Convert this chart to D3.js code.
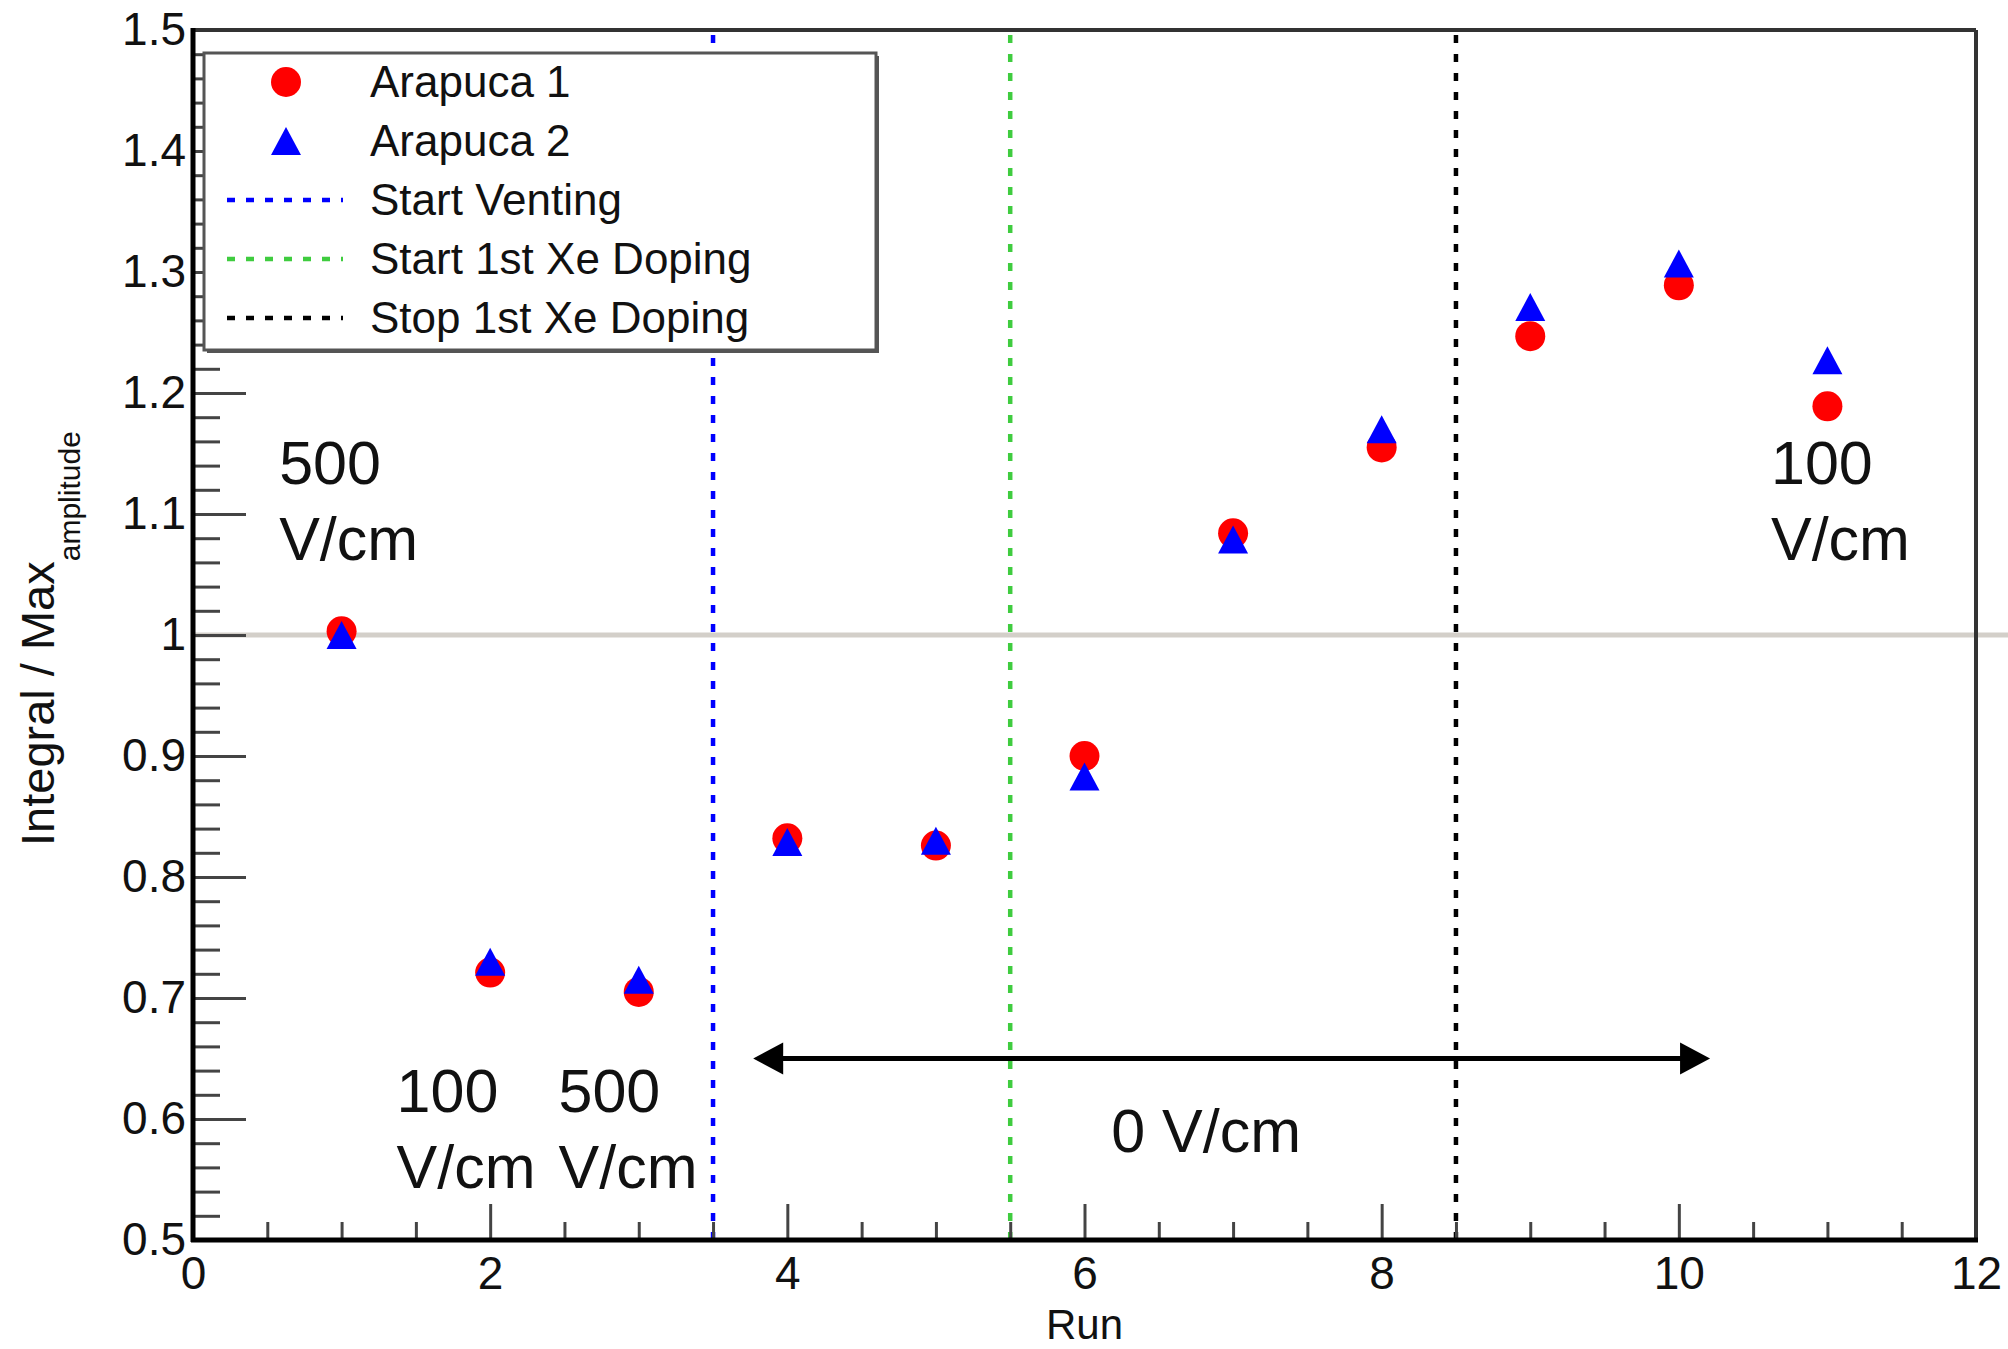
<!DOCTYPE html>
<html>
<head>
<meta charset="utf-8">
<script src="https://cdn.jsdelivr.net/npm/d3@7"></script>
<style>
  body { margin: 0; background: #fff; }
  svg { display: block; font-family: "Liberation Sans", Arial, Helvetica, sans-serif; }
  .tick text { fill: #111; }
</style>
</head>
<body>
<div class="chart"></div>
<script>
// run numbers and the two series
const runs = [1, 2, 3, 4, 5, 6, 7, 8, 9, 10, 11];
const arapuca1 = [1.003, 0.721, 0.705, 0.832, 0.826, 0.900, 1.084, 1.155, 1.247, 1.289, 1.189];
const arapuca2 = [1.000, 0.730, 0.715, 0.829, 0.830, 0.883, 1.079, 1.170, 1.271, 1.307, 1.227];

// axis ticks
const xTicks = [0, 2, 4, 6, 8, 10, 12];
const yTicks = [0.5, 0.6, 0.7, 0.8, 0.9, 1.0, 1.1, 1.2, 1.3, 1.4, 1.5];
const yTickLabels = ['0.5', '0.6', '0.7', '0.8', '0.9', '1', '1.1', '1.2', '1.3', '1.4', '1.5'];

// vertical markers (run where something happened)
const eventNames = ['Start Venting', 'Start 1st Xe Doping', 'Stop 1st Xe Doping'];
const eventRuns = [3.5, 5.5, 8.5];
const eventColors = ['#0000ff', '#3fcc3f', '#000000'];

const seriesNames = ['Arapuca 1', 'Arapuca 2'];
const seriesColors = ['#ff0000', '#0000ff'];

// field labels written on the plot (data units)
const fieldLabels = [
    {lines: ['500', 'V/cm'], x: 0.58, y: 1.125},
    {lines: ['100', 'V/cm'], x: 1.37, y: 0.606},
    {lines: ['500', 'V/cm'], x: 2.46, y: 0.606},
    {lines: ['0 V/cm'], x: 6.18, y: 0.573},
    {lines: ['100', 'V/cm'], x: 10.62, y: 1.125}
];
const zeroFieldRange = [3.77, 10.21];
const zeroFieldY = 0.65;

const W = 2008, H = 1349;
const margin = {top: 30, right: 32, bottom: 109, left: 193};
const width = W - margin.left - margin.right;
const height = H - margin.top - margin.bottom;

const xScale = d3.scaleLinear().domain([0, 12]).range([0, width]);
const yScale = d3.scaleLinear().domain([0.5, 1.5]).range([height, 0]);

const root = d3.select('.chart').append('svg')
    .attr('width', W)
    .attr('height', H);
root.append('rect').attr('width', W).attr('height', H).attr('fill', '#fff');

const svg = root.append('g')
    .attr('transform', 'translate(' + margin.left + ',' + margin.top + ')');

// reference line at 1 (runs past the frame to the page edge)
svg.append('line')
    .attr('x1', 0).attr('x2', W - margin.left)
    .attr('y1', yScale(1)).attr('y2', yScale(1))
    .attr('stroke', '#d3cfc9')
    .attr('stroke-width', 5);

// event lines
svg.selectAll('.event')
    .data(eventRuns).enter()
    .append('line')
    .attr('class', 'event')
    .attr('x1', d => xScale(d)).attr('x2', d => xScale(d))
    .attr('y1', height).attr('y2', 0)
    .attr('stroke', (d, i) => eventColors[i])
    .attr('stroke-width', 4.5)
    .attr('stroke-dasharray', '8 11');

// axes: minor and major ticks pointing inward
const xMinor = d3.range(0, 12.01, 0.5).filter(v => v % 2 !== 0);
const yMinor = d3.range(0, 51).map(i => 0.5 + i * 0.02).filter((v, i) => i % 5 !== 0);

const xAxisMinor = d3.axisBottom(xScale).tickValues(xMinor).tickSize(-18).tickFormat('');
const xAxis = d3.axisBottom(xScale).tickValues(xTicks).tickSize(-36).tickPadding(16)
    .tickFormat(d => String(d));
const yAxisMinor = d3.axisLeft(yScale).tickValues(yMinor).tickSize(-27).tickFormat('');
const yAxis = d3.axisLeft(yScale).tickValues(yTicks).tickSize(-53).tickPadding(7)
    .tickFormat((d, i) => yTickLabels[i]);

function styleAxis(g) {
    g.select('.domain').remove();
    g.selectAll('line').attr('stroke', '#444').attr('stroke-width', 3);
    g.selectAll('text').attr('font-size', 46).attr('font-family', null);
}

svg.append('g').attr('class', 'x axis minor')
    .attr('transform', 'translate(0,' + height + ')')
    .call(xAxisMinor).call(styleAxis);
svg.append('g').attr('class', 'x axis')
    .attr('transform', 'translate(0,' + height + ')')
    .call(xAxis).call(styleAxis);
svg.append('g').attr('class', 'y axis minor')
    .call(yAxisMinor).call(styleAxis);
svg.append('g').attr('class', 'y axis')
    .call(yAxis).call(styleAxis);

// frame
svg.append('line').attr('x1', 0).attr('x2', width).attr('y1', 0).attr('y2', 0)
    .attr('stroke', '#333').attr('stroke-width', 4);
svg.append('line').attr('x1', width).attr('x2', width).attr('y1', 0).attr('y2', height)
    .attr('stroke', '#333').attr('stroke-width', 4);
svg.append('line').attr('x1', -2).attr('x2', width + 2).attr('y1', height).attr('y2', height)
    .attr('stroke', '#000').attr('stroke-width', 5);
svg.append('line').attr('x1', 0).attr('x2', 0).attr('y1', -2).attr('y2', height + 2)
    .attr('stroke', '#000').attr('stroke-width', 5);

// axis titles
root.append('text')
    .attr('x', margin.left + width / 2)
    .attr('y', 1339)
    .attr('text-anchor', 'middle')
    .attr('font-size', 42)
    .attr('fill', '#111')
    .text('Run');

const yTitle = root.append('text')
    .attr('transform', 'translate(54,' + 846 + ')rotate(-90)')
    .attr('font-size', 47)
    .attr('fill', '#111');
yTitle.append('tspan').text('Integral / Max');
yTitle.append('tspan').attr('dy', 26).attr('font-size', 30).text('amplitude');

// markers
const triangle = 'M0,-14L15,14L-15,14Z';

svg.selectAll('.a1')
    .data(runs).enter()
    .append('circle')
    .attr('class', 'a1')
    .attr('cx', d => xScale(d))
    .attr('cy', (d, i) => yScale(arapuca1[i]))
    .attr('r', 15)
    .attr('fill', seriesColors[0]);

svg.selectAll('.a2')
    .data(runs).enter()
    .append('path')
    .attr('class', 'a2')
    .attr('d', triangle)
    .attr('transform', (d, i) => 'translate(' + xScale(d) + ',' + yScale(arapuca2[i]) + ')')
    .attr('fill', seriesColors[1]);

// 0 V/cm arrow
const ay = yScale(zeroFieldY);
const ax0 = xScale(zeroFieldRange[0]);
const ax1 = xScale(zeroFieldRange[1]);
svg.append('line')
    .attr('x1', ax0 + 20).attr('x2', ax1 - 20)
    .attr('y1', ay).attr('y2', ay)
    .attr('stroke', '#000').attr('stroke-width', 5);
svg.append('path')
    .attr('d', 'M' + ax0 + ',' + ay + 'L' + (ax0 + 30) + ',' + (ay - 16) + 'L' + (ax0 + 30) + ',' + (ay + 16) + 'Z')
    .attr('fill', '#000');
svg.append('path')
    .attr('d', 'M' + ax1 + ',' + ay + 'L' + (ax1 - 30) + ',' + (ay - 16) + 'L' + (ax1 - 30) + ',' + (ay + 16) + 'Z')
    .attr('fill', '#000');

// field labels
const fl = svg.selectAll('.field')
    .data(fieldLabels).enter()
    .append('text')
    .attr('class', 'field')
    .attr('font-size', 61)
    .attr('fill', '#111')
    .attr('transform', d => 'translate(' + xScale(d.x) + ',' + yScale(d.y) + ')');
fl.selectAll('tspan')
    .data(d => d.lines).enter()
    .append('tspan')
    .attr('x', 0)
    .attr('y', (d, i) => i * 76)
    .text(d => d);

// legend
const legend = root.append('g').attr('class', 'legend');
legend.append('rect')
    .attr('x', 207).attr('y', 56).attr('width', 672).attr('height', 297)
    .attr('fill', '#555');
legend.append('rect')
    .attr('x', 204).attr('y', 53).attr('width', 672).attr('height', 297)
    .attr('fill', '#fff').attr('stroke', '#555').attr('stroke-width', 3);

const legendItems = seriesNames.map((n, i) => ({name: n, kind: i === 0 ? 'circle' : 'triangle', color: seriesColors[i]}))
    .concat(eventNames.map((n, i) => ({name: n, kind: 'line', color: eventColors[i]})));

const rows = legend.selectAll('.row')
    .data(legendItems).enter()
    .append('g')
    .attr('class', 'row')
    .attr('transform', (d, i) => 'translate(0,' + (82 + i * 59) + ')');

rows.filter(d => d.kind === 'circle').append('circle')
    .attr('cx', 286).attr('r', 15).attr('fill', d => d.color);
rows.filter(d => d.kind === 'triangle').append('path')
    .attr('d', triangle).attr('transform', 'translate(286,0)').attr('fill', d => d.color);
rows.filter(d => d.kind === 'line').append('line')
    .attr('x1', 227).attr('x2', 343)
    .attr('stroke', d => d.color)
    .attr('stroke-width', 4.5)
    .attr('stroke-dasharray', '8 11');
rows.append('text')
    .attr('x', 370)
    .attr('dy', '0.35em')
    .attr('font-size', 44)
    .attr('fill', '#111')
    .text(d => d.name);
</script>
</body>
</html>
